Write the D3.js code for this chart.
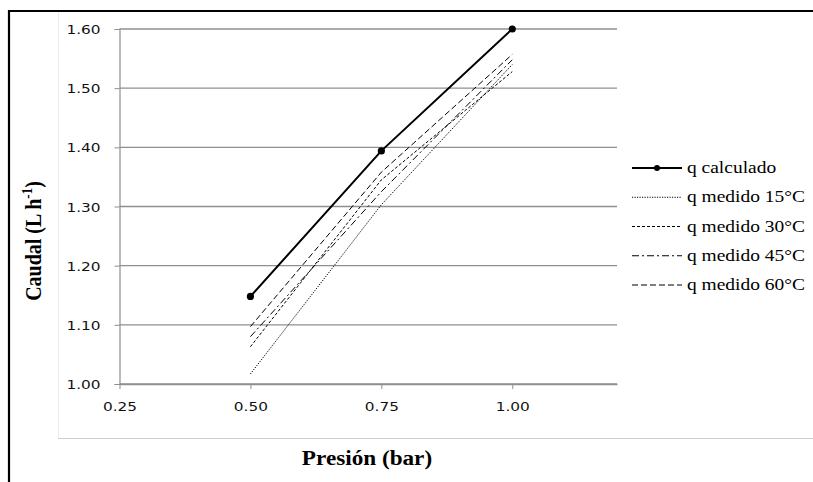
<!DOCTYPE html>
<html>
<head>
<meta charset="utf-8">
<script src="https://cdn.jsdelivr.net/npm/d3@7"></script>
<style>
  html, body { margin: 0; padding: 0; background: #fff; }
  svg { display: block; }
  .serif { font-family: "Liberation Serif", "Times New Roman", serif; }
  .sans { font-family: "DejaVu Sans", Verdana, sans-serif; }
</style>
</head>
<body>
<svg id="chart" width="813" height="482"></svg>
<script>
// ---- data ----
const presion   = [0.50, 0.75, 1.00];
const qCalculado = [1.148, 1.394, 1.600];
const qMedido15  = [1.017, 1.303, 1.540];
const qMedido30  = [1.063, 1.345, 1.528];
const qMedido45  = [1.080, 1.325, 1.548];
const qMedido60  = [1.097, 1.358, 1.557];
const seriesNames = ["q calculado", "q medido 15°C", "q medido 30°C", "q medido 45°C", "q medido 60°C"];
const xTicks = [0.25, 0.50, 0.75, 1.00];
const yTicks = [1.00, 1.10, 1.20, 1.30, 1.40, 1.50, 1.60];

// ---- styles ----
const dashes = [null, "1.2,1.3", "3,2", "7,3,2,3", "6,3"];
const widths = [2, 1, 1, 1, 1];
const allSeries = [qCalculado, qMedido15, qMedido30, qMedido45, qMedido60];
const SX = 1.18; // horizontal stretch of the reference text

const svg = d3.select("#chart");

// outer frame (top + left) and light inner box
svg.append("line").attr("x1", 9).attr("x2", 813).attr("y1", 11).attr("y2", 11)
  .attr("stroke", "#000").attr("stroke-width", 2.2);
svg.append("line").attr("x1", 9).attr("x2", 9).attr("y1", 10).attr("y2", 482)
  .attr("stroke", "#000").attr("stroke-width", 2.2);
svg.append("line").attr("x1", 58.5).attr("x2", 58.5).attr("y1", 12).attr("y2", 439)
  .attr("stroke", "#ececec").attr("stroke-width", 1);
svg.append("line").attr("x1", 58).attr("x2", 813).attr("y1", 438.5).attr("y2", 438.5)
  .attr("stroke", "#cfcfcf").attr("stroke-width", 1.2);

const x = d3.scaleLinear().domain([0.25, 1.20]).range([119.5, 617]);
const y = d3.scaleLinear().domain([1.0, 1.6]).range([384, 29]);

// gridlines
svg.append("g").selectAll("line").data(yTicks).join("line")
  .attr("x1", x(0.25)).attr("x2", x(1.20))
  .attr("y1", d => y(d)).attr("y2", d => y(d))
  .attr("stroke", "#8f8f8f").attr("stroke-width", 1.3);

// y axis
const yAxis = svg.append("g").attr("transform", `translate(${x(0.25)},0)`)
  .call(d3.axisLeft(y).tickValues(yTicks).tickFormat(d3.format(".2f")).tickSize(5).tickPadding(0));
yAxis.attr("font-family", null).attr("font-size", null);
yAxis.select(".domain").attr("stroke", "#8f8f8f").attr("stroke-width", 1.2);
yAxis.selectAll(".tick line").attr("stroke", "#8f8f8f");
yAxis.selectAll(".tick text")
  .attr("x", null).attr("dy", null)
  .attr("transform", `translate(-19,4.5) scale(${SX},1)`)
  .attr("text-anchor", "end").attr("class", "sans")
  .attr("font-size", 13).attr("fill", "#111");

// x axis
const xAxis = svg.append("g").attr("transform", `translate(0,${y(1.0)})`)
  .call(d3.axisBottom(x).tickValues(xTicks).tickFormat(d3.format(".2f")).tickSize(5).tickSizeOuter(0));
xAxis.attr("font-family", null).attr("font-size", null);
xAxis.select(".domain").attr("stroke", "#8f8f8f").attr("stroke-width", 1.3);
xAxis.selectAll(".tick line").attr("stroke", "#8f8f8f");
xAxis.selectAll(".tick text")
  .attr("y", null).attr("dy", null)
  .attr("transform", `translate(0,27) scale(${SX},1)`)
  .attr("text-anchor", "middle").attr("class", "sans")
  .attr("font-size", 13).attr("fill", "#111");

// series lines
const line = d3.line().x((d, i) => x(presion[i])).y(d => y(d));
const plot = svg.append("g");
allSeries.forEach((s, k) => {
  plot.append("path").datum(s)
    .attr("d", line)
    .attr("fill", "none").attr("stroke", "#000")
    .attr("stroke-width", widths[k])
    .attr("stroke-dasharray", dashes[k]);
});
plot.selectAll("circle").data(qCalculado).join("circle")
  .attr("cx", (d, i) => x(presion[i])).attr("cy", d => y(d)).attr("r", 3.6).attr("fill", "#000");

// legend
const legend = svg.append("g");
const ly = d3.scalePoint().domain(seriesNames).range([168, 285]);
seriesNames.forEach((name, k) => {
  const yy = ly(name);
  legend.append("line").attr("x1", 632).attr("x2", 682).attr("y1", yy).attr("y2", yy)
    .attr("stroke", "#000").attr("stroke-width", k === 0 ? 1.8 : 1)
    .attr("stroke-dasharray", dashes[k]);
  if (k === 0) legend.append("circle").attr("cx", 657).attr("cy", yy).attr("r", 3).attr("fill", "#000");
  legend.append("text").text(name)
    .attr("class", "serif")
    .attr("transform", `translate(687,${yy + 5}) scale(${SX},1)`)
    .attr("font-size", 16.5).attr("fill", "#000");
});

// axis titles
svg.append("text").text("Presión (bar)")
  .attr("class", "serif")
  .attr("transform", `translate(367,465) scale(1.16,1)`)
  .attr("text-anchor", "middle")
  .attr("font-weight", "bold")
  .attr("font-size", 20).attr("fill", "#000");

const yt = svg.append("text")
  .attr("class", "serif")
  .attr("transform", `translate(41,241) scale(${SX},1) rotate(-90)`)
  .attr("text-anchor", "middle")
  .attr("font-weight", "bold")
  .attr("font-size", 20).attr("fill", "#000");
yt.append("tspan").text("Caudal (L h");
yt.append("tspan").text("-1").attr("font-size", 13).attr("dy", -8);
yt.append("tspan").text(")").attr("dy", 8);
</script>
</body>
</html>
